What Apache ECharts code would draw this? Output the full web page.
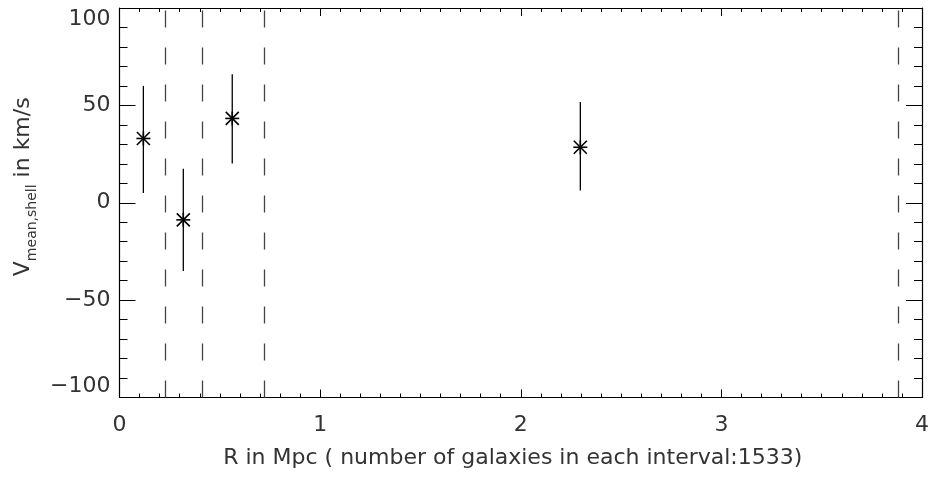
<!DOCTYPE html>
<html>
<head>
<meta charset="utf-8">
<script src="https://cdn.jsdelivr.net/npm/echarts@6/dist/echarts.min.js"></script>
<style>html,body{margin:0;padding:0;background:#fff;}#c{width:932px;height:478px;}</style>
</head>
<body>
<div id="c"></div>
<script>
var xValues = [0.119, 0.318, 0.562, 2.297];
var yValues = [33, -8.8, 43.3, 28.5];
var yLow = [5, -35, 20.1, 6.3];
var yHigh = [60, 17.5, 66, 51.7];
var boundaries = [0.235, 0.405, 0.72, 3.88];
var xTicks = [0, 1, 2, 3, 4];
var yTicks = [-100, -50, 0, 50, 100];

var pts = xValues.map(function (x, i) { return [x, yValues[i], yLow[i], yHigh[i]]; });
var FONT = 'DejaVu Sans';
var TXT = '#333';

var chart = echarts.init(document.getElementById('c'));
function xAx(pos, labels) {
  return {
    type: 'value', position: pos, min: xTicks[0], max: xTicks[xTicks.length - 1], interval: 1,
    axisLine: { show: true, onZero: false, lineStyle: { color: '#000', width: 1.2 } },
    axisTick: { show: true, inside: true, length: 8, lineStyle: { color: '#000', width: 1 } },
    minorTick: { show: true, splitNumber: 10, length: 4, lineStyle: { color: '#000', width: 1 } },
    splitLine: { show: false },
    axisLabel: { show: labels, color: TXT, fontFamily: FONT, fontSize: 22, margin: 17 },
    name: labels ? 'R in Mpc ( number of galaxies in each interval:1533)' : '',
    nameLocation: 'middle', nameGap: 50,
    nameTextStyle: { color: TXT, fontFamily: FONT, fontSize: 22, padding: [0, 16, 0, 0] }
  };
}
function yAx(pos, labels) {
  return {
    type: 'value', position: pos, min: yTicks[0], max: yTicks[yTicks.length - 1], interval: 50,
    axisLine: { show: true, onZero: false, lineStyle: { color: '#000', width: 1.2 } },
    axisTick: { show: true, inside: true, length: 16, lineStyle: { color: '#000', width: 1 } },
    minorTick: { show: true, splitNumber: 5, length: 8, lineStyle: { color: '#000', width: 1 } },
    splitLine: { show: false },
    axisLabel: { show: labels, color: TXT, fontFamily: FONT, fontSize: 22, margin: 9,
      verticalAlignMinLabel: 'bottom', verticalAlignMaxLabel: 'top',
      formatter: function (v) { return v < 0 ? '\u2212' + Math.abs(v) : String(v); } },
    name: labels ? '{v|V}{s|mean,shell}{n| in km/s}' : '',
    nameLocation: 'middle', nameGap: 80, nameRotate: 90,
    nameTextStyle: {
      color: TXT, fontFamily: FONT, fontSize: 22, padding: [0, 0, 0, 32],
      rich: {
        v: { fontFamily: FONT, fontSize: 22, color: TXT, lineHeight: 32, verticalAlign: 'middle' },
        s: { fontFamily: FONT, fontSize: 14, color: TXT, lineHeight: 32, verticalAlign: 'bottom' },
        n: { fontFamily: FONT, fontSize: 22, color: TXT, lineHeight: 32, verticalAlign: 'middle' }
      }
    }
  };
}

chart.setOption({
  animation: false,
  backgroundColor: '#fff',
  grid: { left: 119.5, right: 10, top: 8, bottom: 80.5 },
  xAxis: [xAx('bottom', true), xAx('top', false)],
  yAxis: [yAx('left', true), yAx('right', false)],
  series: [
    {
      type: 'custom',
      xAxisIndex: 0, yAxisIndex: 0,
      data: pts,
      renderItem: function (params, api) {
        var c = api.coord([api.value(0), api.value(1)]);
        var lo = api.coord([api.value(0), api.value(2)]);
        var hi = api.coord([api.value(0), api.value(3)]);
        var r = 7, d = 6.5;
        var st = { stroke: '#000', lineWidth: 1.3 };
        var st2 = { stroke: '#000', lineWidth: 1.6 };
        return {
          type: 'group',
          children: [
            { type: 'line', shape: { x1: lo[0], y1: lo[1], x2: hi[0], y2: hi[1] }, style: st },
            { type: 'line', shape: { x1: c[0] - r, y1: c[1], x2: c[0] + r, y2: c[1] }, style: st2 },
            { type: 'line', shape: { x1: c[0] - d, y1: c[1] - d, x2: c[0] + d, y2: c[1] + d }, style: st2 },
            { type: 'line', shape: { x1: c[0] - d, y1: c[1] + d, x2: c[0] + d, y2: c[1] - d }, style: st2 },
            { type: 'line', shape: { x1: c[0], y1: c[1] - r, x2: c[0], y2: c[1] + r }, style: st2 }
          ]
        };
      },
      markLine: {
        silent: true, symbol: ['none', 'none'], label: { show: false },
        lineStyle: { color: '#444', width: 1.3, type: [17, 20] },
        data: boundaries.map(function (b) { return { xAxis: b }; })
      }
    }
  ]
});
</script>
</body>
</html>
